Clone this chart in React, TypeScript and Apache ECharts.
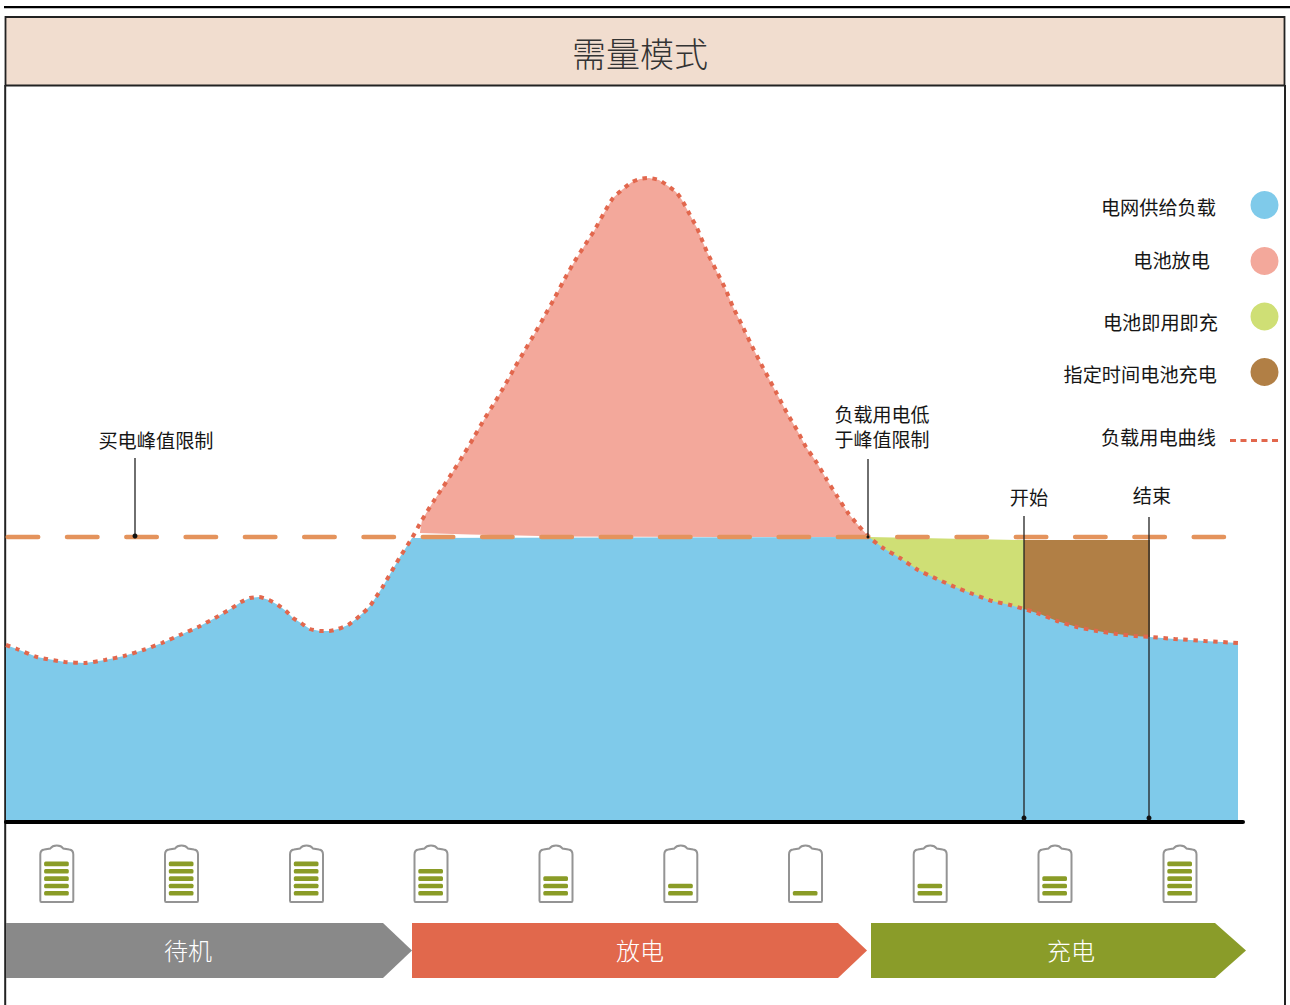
import React, { useEffect, useRef } from "react";
import * as echarts from "echarts";

const CJK = '"Noto Sans CJK SC", "Noto Sans", sans-serif';

const title = "需量模式";

// Load curve: time position and power
const loadTime = [6, 17, 37, 65, 85, 105, 124, 143, 162, 180, 198, 215, 232, 241, 250, 259, 269, 278, 286, 293, 301, 310, 320, 329, 338, 348, 356, 363, 370, 376, 382, 386, 400, 412, 422, 433, 443, 454, 464, 474, 485, 495, 505, 515, 525, 535, 544, 554, 563, 573, 583, 594, 604, 613, 623, 632, 640, 649, 659, 668, 676, 682, 690, 697, 707, 717, 725, 733, 742, 750, 759, 768, 777, 787, 797, 806, 817, 827, 837, 848, 858, 869, 883, 900, 918, 937, 955, 973, 992, 1010, 1024, 1040, 1057, 1077, 1097, 1117, 1135, 1150, 1175, 1205, 1238];
const loadPower = [175, 171, 163, 158, 157, 160, 164, 170, 177, 185, 193, 202, 212, 218, 222, 223, 220, 215, 209, 202, 197, 191, 189, 189, 191, 195, 201, 207, 214, 223, 232, 239, 263, 282, 300, 318, 333, 350, 366, 383, 402, 418, 435, 453, 470, 487, 503, 521, 538, 556, 572, 589, 607, 622, 631, 638, 641, 642, 640, 634, 628, 620, 605, 592, 568, 548, 532, 513, 495, 478, 460, 443, 426, 407, 390, 373, 357, 340, 324, 307, 295, 283, 272, 262, 250, 241, 233, 226, 219, 215, 211, 206, 199, 193, 189, 186, 184, 183, 181, 179, 177];

const limitTime = [7.7, 1224];
const limitPower = [283, 283];

const gapTime = [420, 470, 560, 720, 868];
const gapPower = [287, 285.5, 283.5, 283, 283];

const instantTime = [869, 1024];
const instantPower = [283, 280];

const scheduledTime = [1024, 1150];
const scheduledPower = [280, 280];

// Leader lines: time, top of line, bottom of line
const leaderTimes = [135, 868, 1024, 1149];
const leaderTops = [362, 361, 304, 303];
const leaderBottoms = [284, 283, 2, 2];

const batteryTimes = [39.3, 164, 289, 413.5, 538.5, 663.3, 788, 912.7, 1037.5, 1162.5];
const batteryLevels = [5, 5, 5, 4, 3, 2, 1, 2, 3, 5];

const legendItems = ["电网供给负载", "电池放电", "电池即用即充", "指定时间电池充电"];
const legendColors = ["#7FCAEA", "#F3A89B", "#CFDF75", "#B17F45"];
const legendDotY = [205, 261, 316.5, 372];
const legendTextRight = [1216, 1210, 1218, 1217];
const legendTextY = [206.5, 259.5, 321.5, 373.5];
const loadCurveLabel = "负载用电曲线";

const phases = ["待机", "放电", "充电"];
const phaseColors = ["#898989", "#E1684C", "#8A9C29"];
const phaseStart = [6, 412, 871];
const phaseShoulder = [383, 838, 1215];
const phaseTip = [412, 867, 1246];
const phaseLabelX = [188, 640, 1071];

const BLUE = legendColors[0];
const DOT = "#E2674D";

echarts.graphic.registerShape(
  "batteryShell",
  echarts.graphic.extendPath(
    "M1 56 V10 Q1 5.5 5 5 L11 4 Q13 1 17.5 1 Q22 1 24 4 L30 5 Q34 5.5 34 10 V56 Q34 57.5 33 57.5 H2 Q1 57.5 1 56 Z",
    {}
  )
);

const zip = (xs: number[], ys: number[]) => xs.map((x, i) => [x, ys[i]]);

export default function App() {
  const ref = useRef<HTMLDivElement>(null);

  useEffect(() => {
    const chart = echarts.init(ref.current!, undefined, { renderer: "svg" });
    const load = zip(loadTime, loadPower);
    const grid = [
      ...load.filter((p) => p[0] <= 412),
      [868, 283],
      ...load.filter((p) => p[0] >= 869),
    ];
    const peak = [[420, 288], ...load.filter((p) => p[0] >= 422 && p[0] <= 869)];

    const area = (name: string, data: number[][], color: string) => ({
      name,
      type: "line",
      data,
      showSymbol: false,
      silent: true,
      lineStyle: { width: 0, color },
      areaStyle: { color, opacity: 1 },
    });

    const text = (t: string, x: number, y: number, o: any = {}) => ({
      type: "text",
      x,
      y,
      silent: true,
      style: {
        text: t,
        fontFamily: CJK,
        fontSize: 19.2,
        fill: "#161616",
        fontWeight: 400,
        align: "center",
        verticalAlign: "middle",
        ...o,
      },
    });

    const graphics: any[] = [
      { type: "rect", shape: { x: 4, y: 6, width: 1286, height: 2.2 }, style: { fill: "#000" } },
      { type: "rect", shape: { x: 5.5, y: 17, width: 1279, height: 68.5 }, style: { fill: "#F1DDCF", stroke: "#222", lineWidth: 1.8 } },
      { type: "line", shape: { x1: 5.2, y1: 85, x2: 5.2, y2: 1005 }, style: { stroke: "#222", lineWidth: 2 } },
      { type: "line", shape: { x1: 1285, y1: 85, x2: 1285, y2: 1005 }, style: { stroke: "#222", lineWidth: 2 } },
      text(title, 640, 52, { fontSize: 34, fontWeight: 300, fill: "#333" }),
      text("买电峰值限制", 156, 439.5),
      text("负载用电低", 882, 413, { fontSize: 19 }),
      text("于峰值限制", 882, 438, { fontSize: 19 }),
      text("开始", 1029, 496.5),
      text("结束", 1152, 495),
      text(loadCurveLabel, 1216, 436.5, { align: "right" }),
      {
        type: "line",
        shape: { x1: 1230, y1: 440.5, x2: 1279, y2: 440.5 },
        style: { stroke: DOT, lineWidth: 3.2, lineDash: [6, 4.5] },
      },
    ];

    legendItems.forEach((t, i) => {
      graphics.push(text(t, legendTextRight[i], legendTextY[i], { align: "right" }));
      graphics.push({
        type: "circle",
        shape: { cx: 1264.5, cy: legendDotY[i], r: 14 },
        style: { fill: legendColors[i] },
      });
    });

    batteryTimes.forEach((x, i) => {
      graphics.push({
        type: "batteryShell",
        x,
        y: 844.5,
        style: { fill: "#fff", stroke: "#949494", lineWidth: 2 },
      });
      for (let k = 0; k < batteryLevels[i]; k++) {
        graphics.push({
          type: "rect",
          shape: { x: x + 4.8, y: 891 - k * 7.35, width: 24.7, height: 4.6, r: 1.5 },
          style: { fill: "#8A9C27" },
        });
      }
    });

    phases.forEach((t, i) => {
      graphics.push({
        type: "polygon",
        shape: {
          points: [
            [phaseStart[i], 923],
            [phaseShoulder[i], 923],
            [phaseTip[i], 950.5],
            [phaseShoulder[i], 978],
            [phaseStart[i], 978],
          ],
        },
        style: { fill: phaseColors[i] },
      });
      graphics.push(text(t, phaseLabelX[i], 949, { fontSize: 24, fontWeight: 300, fill: "#fff", z2: 5 }));
    });

    chart.setOption({
      animation: false,
      backgroundColor: "#fff",
      grid: { left: 6, width: 1237, top: 0, height: 822 },
      xAxis: {
        type: "value",
        min: 6,
        max: 1243,
        axisLine: { show: true, onZero: false, lineStyle: { color: "#000", width: 4 } },
        axisTick: { show: false },
        axisLabel: { show: false },
        splitLine: { show: false },
      },
      yAxis: { type: "value", min: -2, max: 820, show: false, splitLine: { show: false } },
      graphic: { elements: graphics },
      series: [
        area("电池放电", peak, legendColors[1]),
        area("峰值间隙", zip(gapTime, gapPower), "#ffffff"),
        area("电池即用即充", zip(instantTime, instantPower), legendColors[2]),
        area("指定时间电池充电", zip(scheduledTime, scheduledPower), legendColors[3]),
        area("电网供给负载", grid, BLUE),
        {
          name: "负载用电曲线",
          type: "line",
          data: load,
          showSymbol: false,
          silent: true,
          smooth: 0.2,
          lineStyle: { color: DOT, width: 4, type: [4.5, 5.5] },
        },
        {
          name: "买电峰值限制",
          type: "line",
          data: zip(limitTime, limitPower),
          showSymbol: false,
          silent: true,
          lineStyle: { color: "#E4935C", width: 4.5, type: [30.5, 28.8], cap: "round" },
        },
        ...leaderTimes.map((x, i) => ({
          name: "引线" + i,
          type: "line",
          silent: true,
          clip: false,
          showAllSymbol: true,
          data: [
            { value: [x, leaderTops[i]], symbol: "none" },
            { value: [x, leaderBottoms[i]], symbol: "circle", symbolSize: i === 1 ? 3 : 5, itemStyle: { color: "#111" } },
          ],
          lineStyle: { color: "#222", width: 1.3 },
        })),
      ],
    });
    return () => chart.dispose();
  }, []);

  return (
    <div
      ref={ref}
      style={{ position: "fixed", left: 0, top: 0, width: 1290, height: 1005 }}
    />
  );
}
